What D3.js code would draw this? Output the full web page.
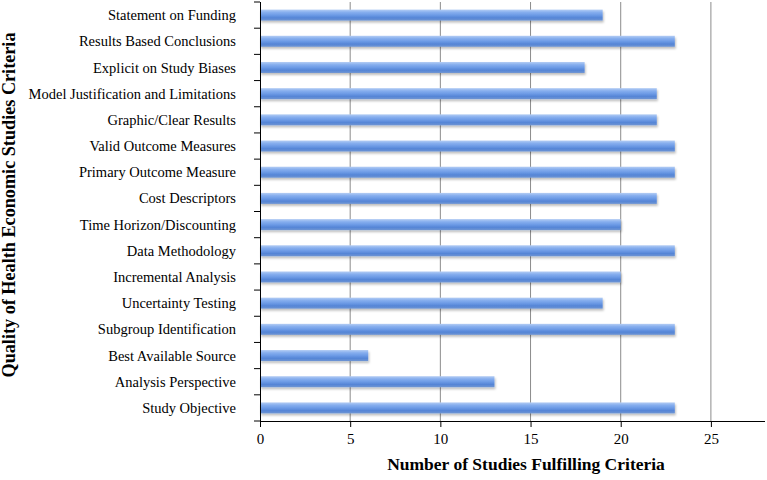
<!DOCTYPE html>
<html><head><meta charset="utf-8">
<script src="https://cdn.jsdelivr.net/npm/d3@7"></script>
<style>body{margin:0;background:#fff}svg{display:block}</style>
</head><body>
<svg id="chart" width="767" height="480"></svg>
<script>
const categories = ["Statement on Funding","Results Based Conclusions","Explicit on Study Biases","Model Justification and Limitations","Graphic/Clear Results","Valid Outcome Measures","Primary Outcome Measure","Cost Descriptors","Time Horizon/Discounting","Data Methodology","Incremental Analysis","Uncertainty Testing","Subgroup Identification","Best Available Source","Analysis Perspective","Study Objective"];
const values = [19,23,18,22,22,23,23,22,20,23,20,19,23,6,13,23];
const xTicks = [0,5,10,15,20,25];
const xTitle = "Number of Studies Fulfilling Criteria";
const yTitle = "Quality of Health Economic Studies Criteria";

const svg = d3.select("#chart");
const m = {left:260, right:2, top:2, bottom:59};
const W = 767, H = 480;
const x = d3.scaleLinear().domain([0,28]).range([m.left, W-m.right]);
const y = d3.scaleBand().domain(categories).range([m.top, H-m.bottom]).paddingInner(0.58).paddingOuter(0.29);

const defs = svg.append("defs");
const g = defs.append("linearGradient").attr("id","barg").attr("x1",0).attr("y1",0).attr("x2",0).attr("y2",1);
[[0,"#b4cdf4"],[0.25,"#86aeee"],[0.5,"#6d9be6"],[0.75,"#5585d6"],[1,"#6f95d3"]].forEach(s=>g.append("stop").attr("offset",s[0]).attr("stop-color",s[1]));
const f = defs.append("filter").attr("id","sh").attr("x","-5%").attr("y","-50%").attr("width","110%").attr("height","220%");
f.append("feDropShadow").attr("dx",1).attr("dy",2).attr("stdDeviation",1.2).attr("flood-color","#000").attr("flood-opacity",0.25);

// gridlines
svg.append("g").selectAll("line").data(xTicks.filter(d=>d>0)).join("line")
  .attr("x1",d=>x(d)).attr("x2",d=>x(d)).attr("y1",m.top).attr("y2",H-m.bottom)
  .attr("stroke","#8c8c8c").attr("stroke-width",1);

// bars
svg.append("g").selectAll("rect").data(categories).join("rect")
  .attr("x",x(0)).attr("y",d=>y(d)).attr("height",y.bandwidth())
  .attr("width",(d,i)=>x(values[i])-x(0))
  .attr("fill","url(#barg)").attr("filter","url(#sh)");

// x axis
const xa = svg.append("g").attr("transform",`translate(0,${H-m.bottom})`)
  .call(d3.axisBottom(x).tickValues(xTicks).tickSize(6).tickPadding(6));
xa.select(".domain").attr("d",`M${x(0)},0.5H${W-m.right}`).attr("stroke","#000");
xa.selectAll("text").attr("font-family","Liberation Serif, serif").attr("font-size",15).attr("fill","#000");

// y axis with ticks between categories
const ya = svg.append("g").attr("transform",`translate(${m.left},0)`);
ya.append("line").attr("x1",0.5).attr("x2",0.5).attr("y1",m.top).attr("y2",H-m.bottom).attr("stroke","#000");
const bounds = d3.range(categories.length+1).map(i=>y.range()[0]+i*(y.range()[1]-y.range()[0])/categories.length);
ya.selectAll("line.t").data(bounds).join("line").attr("class","t")
  .attr("x1",-6).attr("x2",0).attr("y1",d=>d).attr("y2",d=>d).attr("stroke","#000");
ya.selectAll("text").data(categories).join("text")
  .attr("x",-24).attr("y",d=>y(d)+y.bandwidth()/2).attr("dy","0.35em")
  .attr("text-anchor","end").attr("font-family","Liberation Serif, serif").attr("font-size",14.5)
  .text(d=>d);

svg.append("text").attr("x",526).attr("y",470).attr("text-anchor","middle")
  .attr("font-family","Liberation Serif, serif").attr("font-weight","bold").attr("font-size",17.5).text(xTitle);
svg.append("text").attr("transform","translate(15,205) rotate(-90)").attr("text-anchor","middle")
  .attr("font-family","Liberation Serif, serif").attr("font-weight","bold").attr("font-size",18.2).text(yTitle);
</script>
</body></html>
